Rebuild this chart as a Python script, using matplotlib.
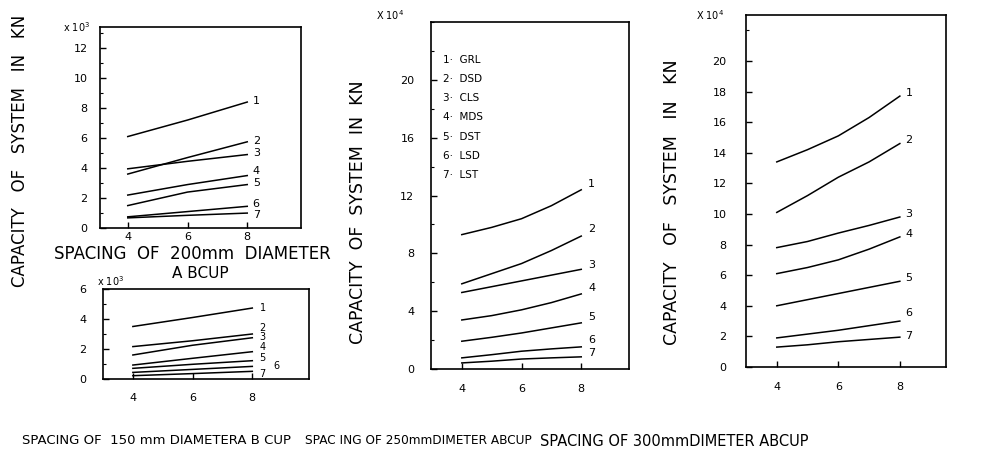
import numpy as np
import matplotlib
matplotlib.use('Agg')
import matplotlib.pyplot as plt
from matplotlib.ticker import MultipleLocator

# Spacing values (x axis)
sp3 = [4, 6, 8]
sp5 = [4, 5, 6, 7, 8]

# Curve numbers and names
curve_ids = ['1', '2', '3', '4', '5', '6', '7']
curve_names = ['GRL', 'DSD', 'CLS', 'MDS', 'DST', 'LSD', 'LST']

# 200 mm diameter ABCUP  (x 10^3 kN)
cap_200 = [
    [6.1, 7.2, 8.4],
    [3.6, 4.7, 5.75],
    [3.95, 4.45, 4.9],
    [2.2, 2.9, 3.5],
    [1.5, 2.4, 2.9],
    [0.75, 1.1, 1.45],
    [0.68, 0.85, 1.0],
]
lab_200 = [8.5, 5.8, 5.0, 3.8, 3.0, 1.6, 0.9]

# 150 mm diameter ABCUP  (x 10^3 kN)
cap_150 = [
    [3.5, 4.1, 4.73],
    [2.16, 2.55, 3.0],
    [1.6, 2.25, 2.75],
    [0.93, 1.38, 1.82],
    [0.71, 0.98, 1.22],
    [0.44, 0.64, 0.84],
    [0.22, 0.36, 0.51],
]
lab_150 = [4.75, 3.4, 2.8, 2.1, 1.4, 0.85, 0.3]
labx_150 = [8.35, 8.35, 8.35, 8.35, 8.35, 8.8, 8.35]

# 250 mm diameter ABCUP  (x 10^4 kN)
cap_250 = [
    [9.3, 9.8, 10.4, 11.3, 12.4],
    [5.9, 6.6, 7.3, 8.2, 9.2],
    [5.3, 5.7, 6.1, 6.5, 6.9],
    [3.4, 3.7, 4.1, 4.6, 5.2],
    [1.93, 2.2, 2.5, 2.85, 3.2],
    [0.78, 1.0, 1.24, 1.4, 1.54],
    [0.43, 0.55, 0.7, 0.78, 0.85],
]
lab_250 = [12.8, 9.7, 7.2, 5.6, 3.6, 2.0, 1.1]

# 300 mm diameter ABCUP  (x 10^4 kN)
cap_300 = [
    [13.4, 14.2, 15.1, 16.3, 17.7],
    [10.1, 11.2, 12.4, 13.4, 14.6],
    [7.8, 8.2, 8.75, 9.25, 9.8],
    [6.1, 6.5, 7.0, 7.7, 8.5],
    [4.0, 4.4, 4.8, 5.2, 5.6],
    [1.9, 2.15, 2.4, 2.7, 3.0],
    [1.3, 1.45, 1.65, 1.8, 1.95],
]
lab_300 = [17.9, 14.8, 10.0, 8.7, 5.8, 3.5, 2.0]

plt.rcParams['font.family'] = 'DejaVu Sans'
fig = plt.figure(figsize=(10.05, 4.58), dpi=100)

def setup(ax, xlim, ylim, yticks, ystep, xpad=10, ypad=10):
    ax.set_xlim(*xlim)
    ax.set_ylim(*ylim)
    ax.set_xticks(sp3)
    ax.set_yticks(yticks)
    ax.yaxis.set_minor_locator(MultipleLocator(ystep))
    ax.tick_params(direction='in', length=4, width=1, labelsize=8)
    ax.tick_params(axis='x', pad=xpad)
    ax.tick_params(axis='y', pad=ypad)
    ax.tick_params(which='minor', direction='in', length=2, width=0.8)
    for s in ax.spines.values():
        s.set_linewidth(1.2)

def draw(ax, xs, data, labs, lx, fs=8):
    if not isinstance(lx, list):
        lx = [lx] * len(data)
    for i, ys in enumerate(data):
        ax.plot(xs, ys, color='black', lw=1.1)
        ax.text(lx[i], labs[i], curve_ids[i], fontsize=fs, ha='center', va='center')

# panel 200 mm
ax1 = fig.add_axes([0.0995, 0.502, 0.2, 0.439])
setup(ax1, (3.07, 9.8), (0, 13.4), [0, 2, 4, 6, 8, 10, 12], 1, xpad=3, ypad=9)
draw(ax1, sp3, cap_200, lab_200, 8.3)
ax1.text(-0.05, 1.0, r'x $10^3$', transform=ax1.transAxes, fontsize=7, ha='right', va='center')

# panel 150 mm
ax2 = fig.add_axes([0.1025, 0.1725, 0.205, 0.1965])
setup(ax2, (3.0, 9.9), (0, 6), [0, 2, 4, 6], 1, xpad=10, ypad=12)
draw(ax2, sp3, cap_150, lab_150, labx_150, fs=7)
ax2.text(-0.03, 1.09, r'x $10^3$', transform=ax2.transAxes, fontsize=7, ha='left', va='center')

# panel 250 mm
ax3 = fig.add_axes([0.4289, 0.194, 0.197, 0.758])
setup(ax3, (2.97, 9.6), (0, 24), [0, 4, 8, 12, 16, 20], 2, xpad=11, ypad=12)
draw(ax3, sp5, cap_250, lab_250, 8.35)
ax3.text(-0.207, 1.02, r'X $10^4$', transform=ax3.transAxes, fontsize=7, ha='center', va='center')
for i, name in enumerate(curve_names):
    ax3.text(0.06, 0.89 - i * 0.055, curve_ids[i] + '·  ' + name,
             transform=ax3.transAxes, fontsize=7.5, va='center')

# panel 300 mm
ax4 = fig.add_axes([0.7423, 0.1987, 0.199, 0.7686])
setup(ax4, (3.0, 9.5), (0, 23), [0, 2, 4, 6, 8, 10, 12, 14, 16, 18, 20], 2, xpad=11, ypad=14)
draw(ax4, sp5, cap_300, lab_300, 8.3)
ax4.text(-0.18, 1.0, r'X $10^4$', transform=ax4.transAxes, fontsize=7, ha='center', va='center')

# axis titles
fig.text(20 / 1005, 1 - 151 / 458, 'CAPACITY   OF   SYSTEM   IN   KN',
         rotation=90, fontsize=12, ha='center', va='center')
fig.text(358 / 1005, 1 - 212 / 458, 'CAPACITY  OF  SYSTEM  IN  KN',
         rotation=90, fontsize=12.5, ha='center', va='center')
fig.text(672 / 1005, 1 - 202 / 458, 'CAPACITY   OF   SYSTEM   IN   KN',
         rotation=90, fontsize=12.5, ha='center', va='center')

fig.text(192 / 1005, 1 - 254 / 458, 'SPACING  OF  200mm  DIAMETER', fontsize=12, ha='center', va='center')
fig.text(200 / 1005, 1 - 274 / 458, 'A BCUP', fontsize=11, ha='center', va='center')

fig.text(22 / 1005, 1 - 441 / 458, 'SPACING OF  150 mm DIAMETERA B CUP', fontsize=9.5, ha='left', va='center')
fig.text(305 / 1005, 1 - 441 / 458, 'SPAC ING OF 250mmDIMETER ABCUP', fontsize=8.7, ha='left', va='center')
fig.text(540 / 1005, 1 - 441 / 458, 'SPACING OF 300mmDIMETER ABCUP', fontsize=10.5, ha='left', va='center')

fig.savefig('out.png', dpi=100)
